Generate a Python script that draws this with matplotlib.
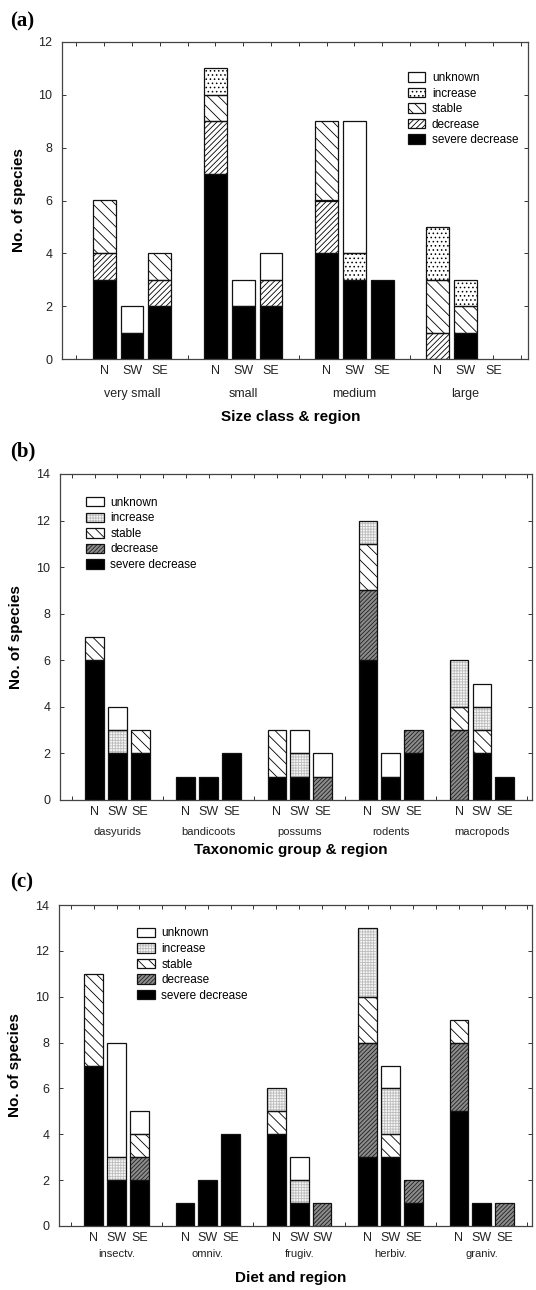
import numpy as np
import matplotlib
matplotlib.use('Agg')
import matplotlib.pyplot as plt
from matplotlib.patches import Patch

plt.rcParams['font.family'] = ['Liberation Sans', 'DejaVu Sans']
plt.rcParams['hatch.linewidth'] = 0.6

# stacked from the bottom up
statuses = ['severe decrease', 'decrease', 'stable', 'increase', 'unknown']
regions = ['N', 'SW', 'SE']

# (a) size class
size_classes = ['very small', 'small', 'medium', 'large']
size_severe = [3, 1, 2, 7, 2, 2, 4, 3, 3, 0, 1, 0]
size_decrease = [1, 0, 1, 2, 0, 1, 2, 0, 0, 1, 0, 0]
size_stable = [2, 0, 1, 1, 0, 0, 3, 0, 0, 2, 1, 0]
size_increase = [0, 0, 0, 1, 0, 0, 0, 1, 0, 2, 1, 0]
size_unknown = [0, 1, 0, 0, 1, 1, 0, 5, 0, 0, 0, 0]

# (b) taxonomic group
taxa = ['dasyurids', 'bandicoots', 'possums', 'rodents', 'macropods']
taxa_severe = [6, 2, 2, 1, 1, 2, 1, 1, 0, 6, 1, 2, 0, 2, 1]
taxa_decrease = [0, 0, 0, 0, 0, 0, 0, 0, 1, 3, 0, 1, 3, 0, 0]
taxa_stable = [1, 0, 1, 0, 0, 0, 2, 0, 0, 2, 0, 0, 1, 1, 0]
taxa_increase = [0, 1, 0, 0, 0, 0, 0, 1, 0, 1, 0, 0, 2, 1, 0]
taxa_unknown = [0, 1, 0, 0, 0, 0, 0, 1, 1, 0, 1, 0, 0, 1, 0]

# (c) diet
diets = ['insectv.', 'omniv.', 'frugiv.', 'herbiv.', 'graniv.']
diet_regions = ['N', 'SW', 'SE', 'N', 'SW', 'SE', 'N', 'SW', 'SW',
                'N', 'SW', 'SE', 'N', 'SW', 'SE']
diet_severe = [7, 2, 2, 1, 2, 4, 4, 1, 0, 3, 3, 1, 5, 1, 0]
diet_decrease = [0, 0, 1, 0, 0, 0, 0, 0, 1, 5, 0, 1, 3, 0, 1]
diet_stable = [4, 0, 1, 0, 0, 0, 1, 0, 0, 2, 1, 0, 1, 0, 0]
diet_increase = [0, 1, 0, 0, 0, 0, 1, 1, 0, 3, 2, 0, 0, 0, 0]
diet_unknown = [0, 5, 1, 0, 0, 0, 0, 1, 0, 0, 1, 0, 0, 0, 0]

# facecolor, hatch, hatch colour
style_a = {
    'severe decrease': ('black', None, 'black'),
    'decrease': ('white', '//////', 'black'),
    'stable': ('white', '\\\\\\', 'black'),
    'increase': ('white', '....', 'black'),
    'unknown': ('white', None, 'black'),
}
style_bc = {
    'severe decrease': ('black', None, 'black'),
    'decrease': ('#8c8c8c', '////////', '#202020'),
    'stable': ('white', '\\\\\\', 'black'),
    'increase': ('#f6f6f6', '++++++', '#bdbdbd'),
    'unknown': ('white', None, 'black'),
}

W, H = 536, 1290
fig = plt.figure(figsize=(W / 100, H / 100), dpi=100)


def px_axes(left, right, top, bottom):
    return fig.add_axes([left / W, 1 - bottom / H, (right - left) / W, (bottom - top) / H])


def panel(ax, groups, ticklabels, series, style, ymax, xmax, leg_xy,
          grp_dy, xlab_dy, xlabel, grp_size):
    n = len(groups)
    x = np.array([g * 4 + j + 1 for g in range(n) for j in range(3)])
    bottom = np.zeros(len(x))
    handles = []
    for name, vals in zip(statuses, series):
        h = np.array(vals, dtype=float)
        m = h > 0
        fc, hatch, hc = style[name]
        ax.bar(x[m], h[m], 0.82, bottom[m], color=fc, hatch=hatch,
               edgecolor=hc, linewidth=0, zorder=2)
        ax.bar(x[m], h[m], 0.82, bottom[m], fill=False,
               edgecolor='#111111', linewidth=0.9, zorder=3)
        handles.append((Patch(facecolor=fc, hatch=hatch, edgecolor=hc, linewidth=0),
                        Patch(fill=False, edgecolor='#111111', linewidth=0.9)))
        bottom += h

    ax.set_xlim(-0.52, xmax)
    ax.set_ylim(0, ymax)
    ticks = np.arange(0, int(xmax) + 1)
    labs = [''] * len(ticks)
    for xi, lab in zip(x, ticklabels):
        labs[xi] = lab
    ax.set_xticks(ticks, labs)
    ax.set_yticks(np.arange(0, ymax + 1, 2))
    ax.tick_params(axis='x', direction='in', top=True, length=3, width=0.7,
                   labelsize=9, pad=4, colors='#333333', labelcolor='#222222')
    ax.tick_params(axis='y', direction='in', right=True, length=3, width=0.7,
                   labelsize=9, pad=7, colors='#333333', labelcolor='#222222')
    for sp in ax.spines.values():
        sp.set_color('#444444')
        sp.set_linewidth(0.9)

    for g, name in enumerate(groups):
        ax.annotate(name, xy=(g * 4 + 2, 0), xycoords=('data', 'axes fraction'),
                    xytext=(0, -grp_dy), textcoords='offset pixels',
                    ha='center', va='center', fontsize=grp_size, color='#222222')
    ax.annotate(xlabel, xy=(0.49, 0), xycoords='axes fraction',
                xytext=(0, -xlab_dy), textcoords='offset pixels',
                ha='center', va='center', fontsize=11, fontweight='bold')
    ax.set_ylabel('No. of species', fontsize=11, fontweight='bold')
    ax.yaxis.set_label_coords(-0.078, 0.5)

    ax.legend(handles[::-1], statuses[::-1], loc='upper left', bbox_to_anchor=leg_xy,
              frameon=False, fontsize=8.5, handlelength=1.5, handleheight=0.85,
              handletextpad=0.55, labelspacing=0.3, borderpad=0, borderaxespad=0)


ax_a = px_axes(62, 528, 42, 359)
panel(ax_a, size_classes, regions * 4,
      [size_severe, size_decrease, size_stable, size_increase, size_unknown],
      style_a, 12, 16.25, (0.742, 0.905), 35, 58, 'Size class & region', 9)

ax_b = px_axes(60, 532, 474, 800)
panel(ax_b, taxa, regions * 5,
      [taxa_severe, taxa_decrease, taxa_stable, taxa_increase, taxa_unknown],
      style_bc, 14, 20.2, (0.055, 0.93), 32, 50, 'Taxonomic group & region', 8)

ax_c = px_axes(59, 532, 905, 1226)
panel(ax_c, diets, diet_regions,
      [diet_severe, diet_decrease, diet_stable, diet_increase, diet_unknown],
      style_bc, 14, 20.2, (0.165, 0.93), 28, 52, 'Diet and region', 8)

for lab, ypx in [('(a)', 21), ('(b)', 451), ('(c)', 882)]:
    fig.text(10 / W, 1 - ypx / H, lab, fontsize=15, fontweight='bold',
             family=['Liberation Serif', 'DejaVu Serif'], va='center', ha='left')

fig.savefig('out.png', dpi=100)
